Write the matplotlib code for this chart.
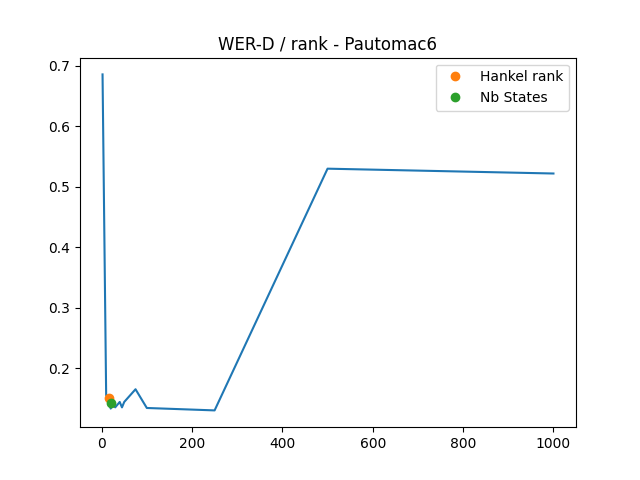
import matplotlib
matplotlib.use("Agg")
import matplotlib.pyplot as plt

# WER-D against rank
ranks = [2, 10, 15, 20, 25, 30, 40, 45, 50, 75, 100, 250, 500, 1000]
wer_d = [0.686, 0.155, 0.150, 0.133, 0.140, 0.135, 0.144, 0.135, 0.144,
         0.165, 0.134, 0.130, 0.530, 0.522]

hankel_rank = [16]
hankel_wer = [0.151]
nb_states = [20]
nb_states_wer = [0.143]

plt.figure(figsize=(6.4, 4.8), dpi=100)
plt.plot(ranks, wer_d)
plt.plot(hankel_rank, hankel_wer, 'o', label='Hankel rank')
plt.plot(nb_states, nb_states_wer, 'o', label='Nb States')
plt.title('WER-D / rank - Pautomac6')
plt.legend()

plt.savefig('out.png')
